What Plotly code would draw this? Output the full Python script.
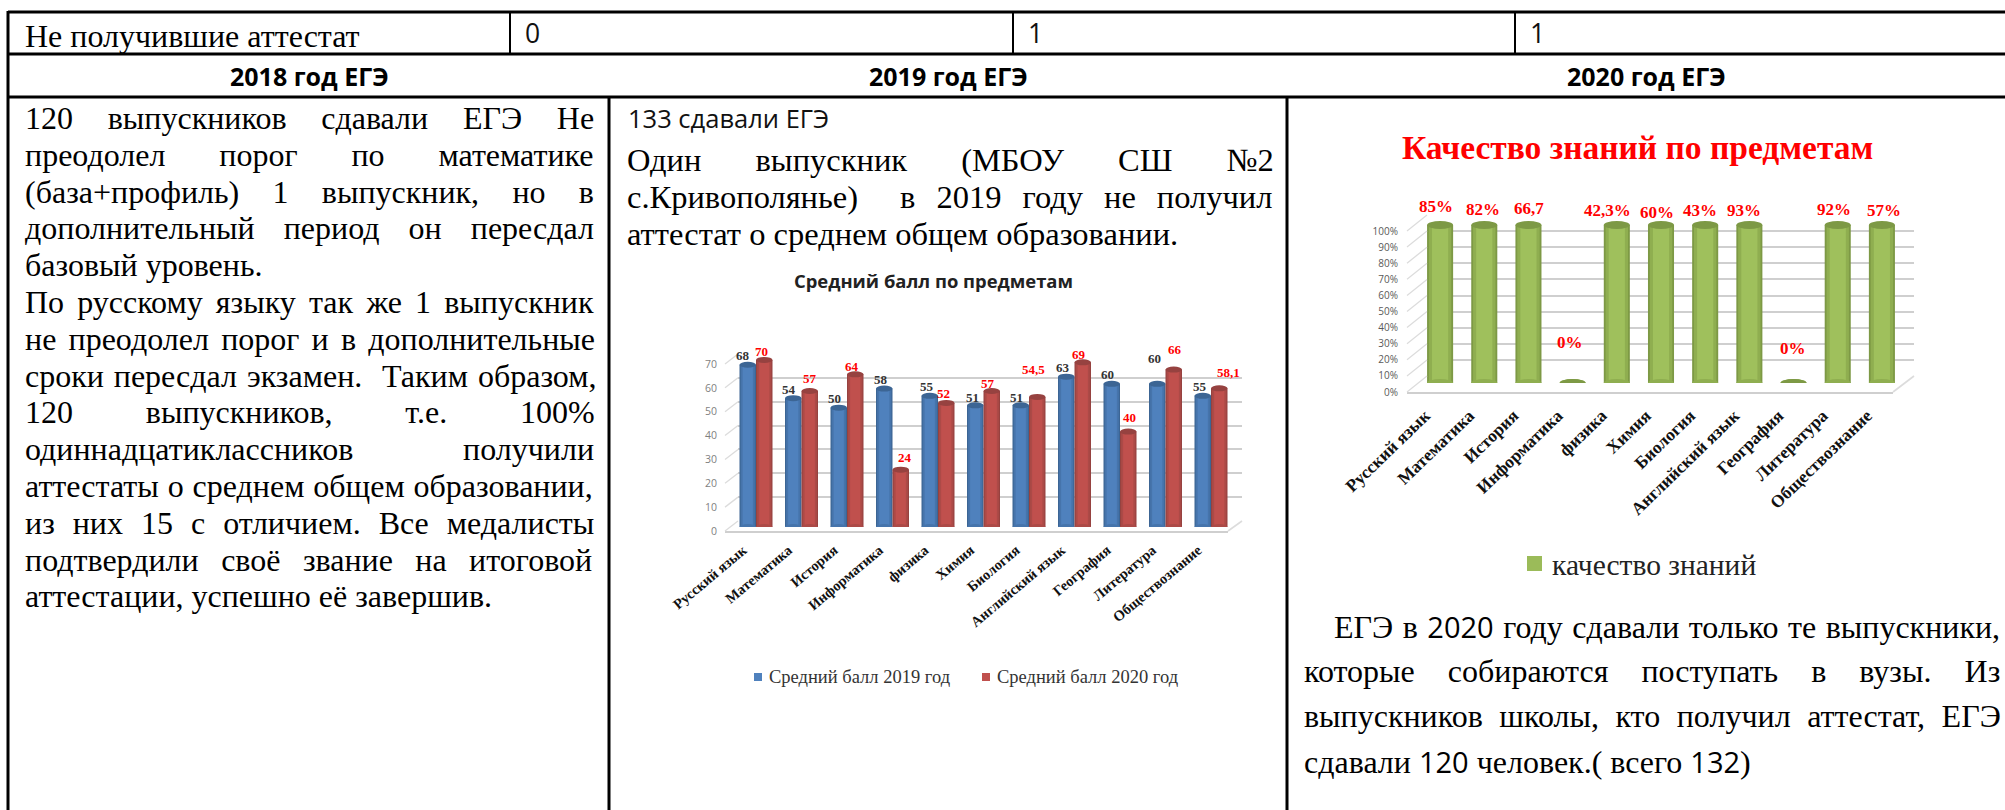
import plotly.graph_objects as go

# ---------- data ----------
subjects = ["Русский язык", "Математика", "История", "Информатика", "физика", "Химия",
            "Биология", "Английский язык", "География", "Литература", "Обществознание"]
avg_2019 = [68, 54, 50, 58, 55, 51, 51, 63, 60, 60, 55]
avg_2020 = [70, 57, 64, 24, 52, 57, 54.5, 69, 40, 66, 58.1]
avg_2019_labels = ["68", "54", "50", "58", "55", "51", "51", "63", "60", "60", "55"]
avg_2020_labels = ["70", "57", "64", "24", "52", "57", "54,5", "69", "40", "66", "58,1"]
quality_bars = [100, 100, 100, 0, 100, 100, 100, 100, 0, 100, 100]
quality_labels = ["85%", "82%", "66,7", "0%", "42,3%", "60%", "43%", "93%", "0%", "92%", "57%"]
series_names = ["Средний балл 2019 год", "Средний балл 2020 год", "качество знаний"]
chart_titles = ["Средний балл по предметам", "Качество знаний по предметам"]
ticks_avg = [0, 10, 20, 30, 40, 50, 60, 70]
ticks_quality = [0, 10, 20, 30, 40, 50, 60, 70, 80, 90, 100]

row_label = "Не получившие аттестат"
row_values = ["0", "1", "1"]
headers = ["2018 год ЕГЭ", "2019 год ЕГЭ", "2020 год ЕГЭ"]
text_2018 = [
    ("120 выпускников сдавали ЕГЭ Не", True),
    ("преодолел порог по математике", True),
    ("(база+профиль) 1 выпускник, но в", True),
    ("дополнительный период он пересдал", True),
    ("базовый уровень.", False),
    ("По русскому языку так же 1 выпускник", True),
    ("не преодолел порог и в дополнительные", True),
    ("сроки пересдал экзамен.  Таким образом,", True),
    ("120 выпускников, т.е. 100%", True),
    ("одиннадцатиклассников получили", True),
    ("аттестаты о среднем общем образовании,", True),
    ("из них 15 с отличием. Все медалисты", True),
    ("подтвердили своё звание на итоговой", True),
    ("аттестации, успешно её завершив.", False),
]
text_2019_head = "133 сдавали ЕГЭ"
text_2019 = [
    ("Один выпускник (МБОУ СШ №2", True),
    ("с.Кривополянье)  в 2019 году не получил", True),
    ("аттестат о среднем общем образовании.", False),
]
text_2020 = [
    ("ЕГЭ в 2020 году сдавали только те выпускники,", True),
    ("которые собираются поступать в вузы. Из", True),
    ("выпускников школы, кто получил аттестат, ЕГЭ", True),
    ("сдавали 120 человек.( всего 132)", False),
]

# ---------- layout helpers ----------
W, H = 2005, 810
SERIF = "Liberation Serif"
SANS = "Open Sans"
px = lambda v: v / W
py = lambda v: 1 - v / H

# Times-compatible advance widths, used to spread justified lines
CW = dict(zip("абвгдеёжзийклмнопрстуфхцчшщъыьэюя",
              [444, 508, 472, 411, 506, 444, 444, 695, 394, 535, 535, 491, 527, 637, 535, 500,
               535, 500, 444, 430, 500, 645, 500, 541, 514, 770, 778, 600, 744, 479, 443, 722, 489]))
CW.update(dict(zip("АБВГДЕЖЗИЙКЛМНОПРСТУФХЦЧШЩЫЭЮЯ",
                   [722, 572, 667, 578, 682, 611, 915, 500, 722, 722, 667, 668, 889, 722, 722, 722,
                    556, 667, 611, 722, 790, 722, 722, 667, 1000, 1000, 889, 667, 1000, 667])))
CW.update({".": 250, ",": 250, "(": 333, ")": 333, "+": 564, "%": 833, "№": 955, " ": 250})
CW.update({d: 500 for d in "0123456789"})


def text_w(s, size):
    return sum(CW.get(c, 500) for c in s) / 1000 * size


annotations, shapes = [], []


def label(text, x, y, size, family=SERIF, color="#000000", bold=False, anchor="left"):
    annotations.append(dict(
        text=f"<b>{text}</b>" if bold else text, xref="paper", yref="paper", x=px(x), y=py(y),
        xanchor=anchor, yanchor="middle", showarrow=False, align=anchor,
        font=dict(family=family, size=size, color=color)))


def rule(x0, y0, x1, y1, width=3, color="#000000"):
    shapes.append(dict(type="line", xref="paper", yref="paper", x0=px(x0), y0=py(y0),
                       x1=px(x1), y1=py(y1), line=dict(color=color, width=width)))


def block(lines, left, right, first_y, pitch, size, indent=0, digits=(), trims=None):
    for i, (line, just) in enumerate(lines):
        start = left + (indent if i == 0 else 0)
        s = line
        for d in digits:
            s = s.replace(d, f'<span style="font-family:{SANS};font-size:{size - 3}px">{d}</span>')
        if just:
            trim = trims[i] if trims else 0
            gap = (right + trim - start - text_w(line, size)) / line.count(" ")
            s = f'<span style="word-spacing:{gap:.2f}px">{s}</span>'
        label(s, start, first_y + i * pitch, size)


# ---------- table ----------
rule(8, 12, W, 12)
rule(8, 54, W, 54)
rule(8, 97, W, 97)
rule(8, 11, 8, H)
rule(609, 97, 609, H)
rule(1287, 97, 1287, H)
for x in (510, 1013, 1515):
    rule(x, 12, x, 54, width=2)

label(row_label, 23, 36, 32)
for v, x in zip(row_values, (532, 1035, 1537)):
    label(v, x, 33, 26.5, family=SANS, color="#111111", anchor="center")
for h, x in zip(headers, (309, 948, 1646)):
    label(h, x, 76, 25, family=SANS, color="#000000", bold=True, anchor="center")

block(text_2018, 23, 595, 118, 36.8, 32,
      trims=[2.5, 2.5, 1, 2.5, 0, 6, 6, 2.5, 4, 4, -1, 2.5, -1, 0])
label(text_2019_head, 626, 118, 25.5, family=SANS, color="#111111")
block(text_2019, 625, 1272, 160, 37, 32.5, trims=[5, 6, 0])
block(text_2020, 1302, 2002, 626, 45, 32, indent=30, digits=("2020", "120", "132"), trims=[3, 5, 12, 0])

# ---------- charts ----------
fig = go.Figure()
GRID = "#cfcfcf"
BOLD_TICKS = [f"<b>{s}</b>" for s in subjects]


def y_domain(zero_px, unit_px, vmax):
    return [py(zero_px), py(zero_px - unit_px * vmax)]


def layered_bars(xaxis, yaxis, values, name, width, offset, colors):
    for frac, col in zip((1, 0.86, 0.62), colors):
        fig.add_trace(go.Bar(
            x=subjects, y=values, name=name, xaxis=xaxis, yaxis=yaxis,
            width=width * frac, offset=offset + width * (1 - frac) / 2,
            marker=dict(color=col, line=dict(width=0)), showlegend=False, hoverinfo="skip"))


def cylinder_ends(xref, yref, values, center_shift, half_w, ry, top, bottom):
    for i, v in enumerate(values):
        c = i + center_shift
        for yv, col in ((0, bottom), (v, top)):
            shapes.append(dict(type="circle", xref=xref, yref=yref, layer="above",
                               x0=c - half_w, x1=c + half_w, y0=yv - ry, y1=yv + ry,
                               fillcolor=col, line=dict(width=0)))


def value_labels(xref, yref, values, texts, center_shift, dx, dy, color, size):
    for i, (v, t) in enumerate(zip(values, texts)):
        annotations.append(dict(
            text=f"<b>{t}</b>", xref=xref, yref=yref, x=i + center_shift, y=v,
            xshift=dx[i], yshift=dy[i], showarrow=False, xanchor="center", yanchor="middle",
            font=dict(family=SERIF, size=size, color=color)))


def wall_axes(num_grid, num_front, ticks, grid_box, front_box, tick_fmt, font_size, tick_color, standoff):
    """Back-wall gridlines and the front value axis with its floor line."""
    for num in (num_grid, num_front):
        fig.add_trace(go.Scatter(x=[None], y=[None], xaxis=f"x{num}", yaxis=f"y{num}",
                                 mode="lines", showlegend=False, hoverinfo="skip"))
    gx0, gx1, gzero, unit = grid_box
    fx0, fx1, fzero = front_box
    fig.layout[f"xaxis{num_grid}"] = dict(domain=[px(gx0), px(gx1)], anchor=f"y{num_grid}", visible=False,
                                          range=[0, 1])
    fig.layout[f"yaxis{num_grid}"] = dict(domain=y_domain(gzero, unit, ticks[-1]), anchor=f"x{num_grid}",
                                          range=[0, ticks[-1]], tickvals=ticks, showticklabels=False,
                                          showgrid=True, gridcolor=GRID, gridwidth=1.6, zeroline=False,
                                          ticks="", showline=False)
    fig.layout[f"xaxis{num_front}"] = dict(domain=[px(fx0), px(fx1)], anchor=f"y{num_front}", range=[0, 1],
                                           showticklabels=False, showgrid=False, zeroline=False, ticks="",
                                           showline=True, linecolor=GRID, linewidth=2)
    fig.layout[f"yaxis{num_front}"] = dict(domain=y_domain(fzero, unit, ticks[-1]), anchor=f"x{num_front}",
                                           range=[0, ticks[-1]], tickvals=ticks,
                                           ticktext=[f"{t}{tick_fmt}" for t in ticks],
                                           showgrid=False, zeroline=False, showline=False, ticks="",
                                           ticklabelstandoff=standoff,
                                           tickfont=dict(family=SANS, size=font_size, color=tick_color))
    # side-wall diagonals and the right floor edge
    for t in ticks:
        shapes.append(dict(type="line", xref="paper", yref="paper", x0=px(fx0), x1=px(gx0),
                           y0=py(fzero - unit * t), y1=py(gzero - unit * t),
                           line=dict(color="#dcdcdc", width=1.3)))
    shapes.append(dict(type="line", xref="paper", yref="paper", x0=px(fx1), x1=px(gx1),
                       y0=py(fzero), y1=py(gzero), line=dict(color="#dcdcdc", width=1.6)))


def category_axis(num, x0, x1, zero_px, unit, vmax, axis_px, angle, size, standoff, shift):
    fig.layout[f"xaxis{num}"] = dict(
        domain=[px(x0), px(x1)], anchor="free", position=py(axis_px), type="category",
        categoryorder="array", categoryarray=subjects, range=[-0.5, 10.5],
        tickmode="array", tickvals=subjects, ticktext=BOLD_TICKS,
        tickangle=angle, showgrid=False, zeroline=False, showline=False, ticks="",
        ticklabelstandoff=standoff, ticklabelshift=shift,
        tickfont=dict(family=SERIF, size=size, color="#111111"))
    fig.layout[f"yaxis{num}"] = dict(domain=y_domain(zero_px, unit, vmax), anchor=f"x{num}",
                                     range=[0, vmax], visible=False)


# --- chart 1: average score
wall_axes("", "2", ticks_avg, (738, 1242, 521, 2.386), (725, 1228, 531), "", 10.5, "#7f7f7f", 7)
C1_W = 16.5 / 45.5
layered_bars("x3", "y3", avg_2019, series_names[0], C1_W, -C1_W, ("#3c6594", "#4674ab", "#4f81bd"))
layered_bars("x3", "y3", avg_2020, series_names[1], C1_W, 0, ("#964240", "#ac4a47", "#c0504d"))
category_axis("3", 733.25, 1233.75, 527, 2.386, 80, 532, -40, 14.5, 6, -13)
RY1 = 3 / 2.386
cylinder_ends("x3", "y3", avg_2019, -C1_W / 2, C1_W / 2, RY1, "#3c6594", "#4674ab")
cylinder_ends("x3", "y3", avg_2020, C1_W / 2, C1_W / 2, RY1, "#964240", "#ac4a47")
value_labels("x3", "y3", avg_2019, avg_2019_labels, -C1_W / 2,
             [-5, -4, -4, -3, -3, -3, -4, -3, -4, -3, -3],
             [9, 9, 9, 9, 9, 8, 8, 9, 9, 25, 9], "#333333", 13)
value_labels("x3", "y3", avg_2020, avg_2020_labels, C1_W / 2,
             [-3, 0, -3, 4, -3, -4, -4, -4, 1, 1, 9],
             [8, 13, 8, 12, 9, 8, 27, 8, 14, 20, 16], "#ff0000", 13)
label(chart_titles[0], 933, 280, 18.4, family=SANS, color="#222222", bold=True, anchor="center")
for name, sq, tx, col in ((series_names[0], 758, 767, "#4f81bd"), (series_names[1], 986, 995, "#c0504d")):
    shapes.append(dict(type="rect", xref="paper", yref="paper", x0=px(sq - 4), x1=px(sq + 4),
                       y0=py(681), y1=py(673), fillcolor=col, line=dict(width=0)))
    label(name, tx, 677, 18.5, color="#333333")

# --- chart 2: quality of knowledge
wall_axes("4", "5", ticks_quality, (1427, 1914, 376, 1.61), (1407, 1893, 392), "%", 10, "#595959", 8)
C2_W = 26 / 44.1
layered_bars("x6", "y6", quality_bars, series_names[2], C2_W, -C2_W / 2, ("#7d9945", "#8fae50", "#9fc05c"))
category_axis("6", 1418, 1904, 383, 1.58, 115, 396, -44, 17.5, 5, -15)
cylinder_ends("x6", "y6", quality_bars, 0, C2_W / 2, 4 / 1.58, "#7d9945", "#8fae50")
value_labels("x6", "y6", quality_bars, quality_labels, 0,
             [-4, -1, 1, -3, -9, -4, -5, -5, -1, -4, 2],
             [18, 15, 16, 40, 14, 12, 14, 14, 34, 15, 14], "#ff0000", 17)
label(chart_titles[1], 1637, 148, 33.5, color="#ff0000", bold=True, anchor="center")
shapes.append(dict(type="rect", xref="paper", yref="paper", x0=px(1527), x1=px(1542),
                   y0=py(571), y1=py(556), fillcolor="#9bbb59", line=dict(width=0)))
label(series_names[2], 1550, 565, 29.5, color="#222222")

fig.update_layout(
    width=W, height=H, margin=dict(l=0, r=0, t=0, b=0, autoexpand=False),
    paper_bgcolor="#ffffff", plot_bgcolor="rgba(0,0,0,0)", barmode="overlay",
    showlegend=False, annotations=annotations, shapes=shapes)

fig.write_html("out.html", config=dict(displayModeBar=False),
               post_script="document.body.style.margin='0';")
